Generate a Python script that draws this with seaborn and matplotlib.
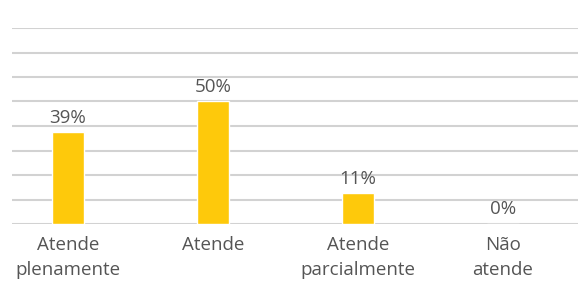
import numpy as np
import pandas as pd
import matplotlib
matplotlib.use("Agg")
import matplotlib.pyplot as plt
import seaborn as sns

# ---------- Data ----------
categories = ["Atende\nplenamente", "Atende", "Atende\nparcialmente", "Não\natende"]
bar_heights = [37.5, 50.0, 12.5, 0.0]          # bar heights as drawn
bar_labels = ["39%", "50%", "11%", "0%"]       # labels shown above bars
y_ticks = [0, 10, 20, 30, 40, 50, 60, 70, 80]

df = pd.DataFrame({"categoria": categories, "valor": bar_heights})

# ---------- Style ----------
sns.set_theme(style="white")
plt.rcParams["font.family"] = ["Open Sans", "DejaVu Sans"]
text_color = "#555555"
bar_color = "#FEC90B"
grid_color = "#d2d2d2"

fig = plt.figure(figsize=(5.83, 2.89), dpi=100)
ax = fig.add_axes([12 / 583, 65 / 289, 566 / 583, 196 / 289])

sns.barplot(data=df, x="categoria", y="valor", color=bar_color,
            width=0.22, saturation=1, ax=ax)

ax.set_ylim(0, 80)
ax.set_xlim(-0.386, 3.517)
ax.set_yticks(y_ticks)
ax.yaxis.grid(True, color=grid_color, linewidth=1.5)
ax.set_axisbelow(True)
for side in ["top", "right", "left", "bottom"]:
    ax.spines[side].set_visible(False)

ax.set_xlabel("")
ax.set_ylabel("")
ax.set_yticklabels([])
ax.tick_params(axis="y", length=0)
ax.tick_params(axis="x", length=0, pad=9, labelsize=13.5, labelcolor=text_color)
for lbl in ax.get_xticklabels():
    lbl.set_linespacing(1.45)

ax.bar_label(ax.containers[0], labels=bar_labels, padding=4,
             fontsize=13.5, color=text_color)

fig.savefig("out.png", dpi=100)
